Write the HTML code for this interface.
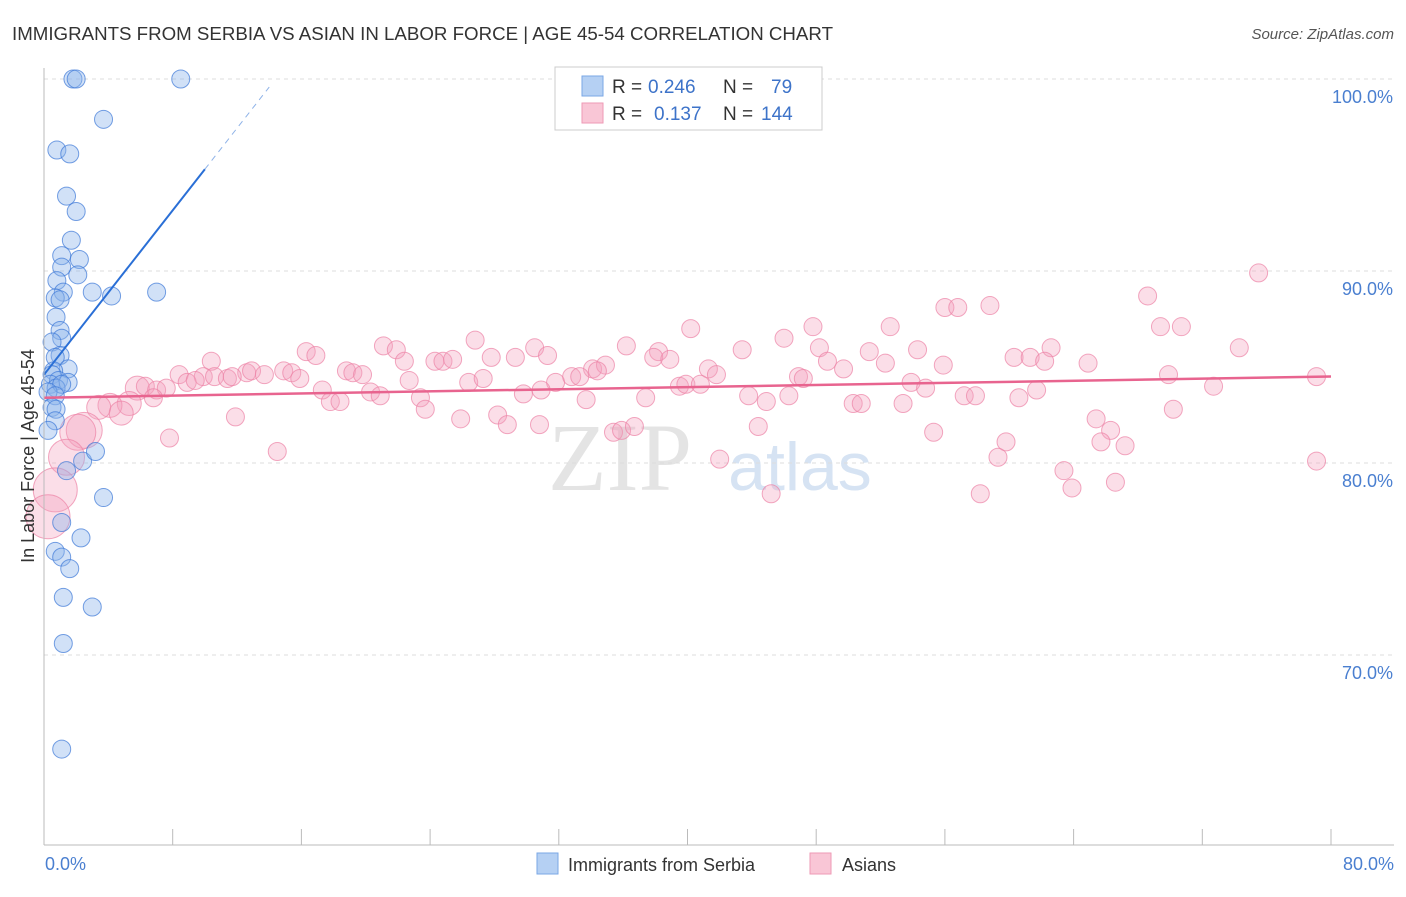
<!DOCTYPE html>
<html><head><meta charset="utf-8"><style>
body{margin:0;background:#fff;font-family:"Liberation Sans",sans-serif;}
</style></head><body>
<svg id="c" width="1406" height="892" xmlns="http://www.w3.org/2000/svg" style="font-family:'Liberation Sans',sans-serif">
<text x="12" y="40" font-size="18" fill="#333" textLength="821" lengthAdjust="spacingAndGlyphs">IMMIGRANTS FROM SERBIA VS ASIAN IN LABOR FORCE | AGE 45-54 CORRELATION CHART</text>
<text x="1394" y="39" font-size="15" fill="#555" text-anchor="end" font-style="italic">Source: ZipAtlas.com</text>
<text x="620" y="490" font-size="96" fill="#e4e4e4" font-family="Liberation Serif" text-anchor="middle">ZIP</text>
<text x="800" y="490" font-size="68" fill="#d6e3f3" text-anchor="middle">atlas</text>
<g id="grid"></g><g id="pink"></g><g id="blue"></g><g id="lines"></g><g id="axes"></g>
<text transform="translate(34,456) rotate(-90)" font-size="18" fill="#333" text-anchor="middle">In Labor Force | Age 45-54</text>
<text x="45" y="870" font-size="18" fill="#4a7fd0">0.0%</text>
<text x="1394" y="870" font-size="18" fill="#4a7fd0" text-anchor="end">80.0%</text>
<g>
<rect x="555" y="67" width="267" height="63" fill="#fff" stroke="#ccc"/>
<rect x="582" y="76" width="21" height="20" fill="#b5d0f3" stroke="#7aa7e6"/>
<rect x="582" y="103" width="21" height="20" fill="#f9c6d6" stroke="#ee9ab5"/>
<text x="612" y="93" font-size="19" fill="#333">R =</text>
<text x="648" y="93" font-size="19" fill="#3d73c9">0.246</text>
<text x="723" y="93" font-size="19" fill="#333">N =</text>
<text x="771" y="93" font-size="19" fill="#3d73c9">79</text>
<text x="612" y="120" font-size="19" fill="#333">R =</text>
<text x="654" y="120" font-size="19" fill="#3d73c9">0.137</text>
<text x="723" y="120" font-size="19" fill="#333">N =</text>
<text x="761" y="120" font-size="19" fill="#3d73c9">144</text>
</g>
<g>
<rect x="537" y="853" width="21" height="21" fill="#b5d0f3" stroke="#7aa7e6"/>
<text x="568" y="871" font-size="18" fill="#333">Immigrants from Serbia</text>
<rect x="810" y="853" width="21" height="21" fill="#f9c6d6" stroke="#ee9ab5"/>
<text x="842" y="871" font-size="18" fill="#333">Asians</text>
</g>
</svg>
<script>
const yTicks=[100,90,80,70];
const blueX=[1.8,2.0,8.5,3.7,0.8,1.6,1.4,2.0,1.7,1.1,2.2,1.1,2.1,0.8,1.2,3.0,4.2,7.0,0.7,1.0,0.75,1.0,1.1,0.5,1.0,0.7,1.5,0.6,0.5,0.9,1.5,0.4,0.75,1.1,0.25,0.7,0.5,0.75,0.7,0.25,2.4,3.2,1.4,3.7,1.1,2.3,0.7,1.1,1.6,1.2,3.0,1.2,1.1];
const blueY=[100,100,100,97.9,96.3,96.1,93.9,93.1,91.6,90.8,90.6,90.2,89.8,89.5,88.9,88.9,88.7,88.9,88.6,88.5,87.6,86.9,86.5,86.3,85.6,85.5,84.9,84.8,84.6,84.3,84.2,84.1,83.9,84.1,83.7,83.5,82.9,82.8,82.2,81.7,80.1,80.6,79.6,78.2,76.9,76.1,75.4,75.1,74.5,73.0,72.5,70.6,65.1];
const pinkX=[75.5,68.6,56.0,56.8,58.8,40.2,47.8,52.6,69.4,70.7,26.8,30.5,31.3,21.1,21.9,16.3,16.9,36.2,38.2,43.4,46.0,48.2,51.3,54.3,62.6,60.3,61.3,62.2,64.9,74.3,10.4,22.4,24.3,24.8,25.4,27.8,29.3,34.1,34.9,37.9,38.9,48.7,49.7,52.3,55.9,41.3,41.8,12.6,12.9,13.7,14.9,15.4,15.9,18.8,19.2,19.8,8.4,9.9,10.6,11.4,11.7,8.9,9.4,22.7,26.4,27.3,31.8,32.8,33.3,34.4,39.5,39.9,40.8,46.9,47.2,53.9,54.8,69.9,72.7,79.1,5.8,6.3,7.0,7.6,17.3,20.3,20.9,23.4,29.8,30.9,33.7,37.4,43.8,44.9,46.3,50.3,50.8,53.4,57.2,57.9,60.6,61.7,70.2,17.8,18.4,6.8,5.3,4.1,3.4,4.8,11.9,23.7,25.9,28.2,28.8,30.8,35.4,35.9,36.7,44.4,55.3,65.4,66.3,65.7,67.2,59.8,59.3,7.8,14.5,42.0,2.5,2.1,1.4,0.7,0.25,45.2,58.2,63.4,63.9,66.6,79.1];
const pinkY=[89.9,88.7,88.1,88.1,88.2,87.0,87.1,87.1,87.1,87.1,86.4,86.0,85.6,86.1,85.9,85.8,85.6,86.1,85.8,85.9,86.5,86.0,85.8,85.9,86.0,85.5,85.5,85.3,85.2,86.0,85.3,85.3,85.3,85.3,85.4,85.5,85.5,84.9,85.1,85.5,85.4,85.3,84.9,85.2,85.1,84.9,84.6,84.7,84.8,84.6,84.8,84.7,84.4,84.8,84.7,84.6,84.6,84.5,84.5,84.4,84.5,84.2,84.3,84.3,84.2,84.4,84.2,84.5,84.5,84.8,84.0,84.1,84.1,84.5,84.4,84.2,83.9,84.6,84.0,84.5,83.9,84.0,83.8,83.9,83.8,83.7,83.5,83.4,83.6,83.8,83.3,83.4,83.5,83.2,83.5,83.1,83.1,83.1,83.5,83.5,83.4,83.8,82.8,83.2,83.2,83.4,83.1,83.0,82.9,82.6,82.4,82.8,82.3,82.5,82.0,82.0,81.6,81.7,81.9,81.9,81.6,82.3,81.7,81.1,80.9,81.1,80.3,81.3,80.6,80.2,81.7,81.6,80.3,78.6,77.2,78.4,78.4,79.6,78.7,79.0,80.1];
const blueTrend=[84.6,1.07];
const pinkTrend=[83.4,0.0138];
const NS='http://www.w3.org/2000/svg';
const X=v=>44+v/80*1287, Y=v=>79+(100-v)*19.2;
function mk(t,a,p){const e=document.createElementNS(NS,t);for(const k in a)e.setAttribute(k,a[k]);document.getElementById(p).appendChild(e);return e;}
yTicks.forEach(t=>{
 const g=mk('line',{x1:44,x2:1394,y1:Y(t),y2:Y(t),stroke:'#ddd','stroke-dasharray':'4,4'},'grid');
 
 
 const l=mk('text',{x:1393,y:Y(t)+24,'font-size':18,fill:'#4a7fd0','text-anchor':'end'},'grid');
 l.textContent=t.toFixed(1)+'%';
 
 
});
const ax=mk('line',{x1:44,x2:44,y1:68,y2:845,stroke:'#bbb'},'axes');


const bx=mk('line',{x1:44,x2:1394,y1:845,y2:845,stroke:'#bbb'},'axes');


for(let i=1;i<=10;i++){const t=mk('line',{x1:X(i*8),x2:X(i*8),y1:829,y2:845,stroke:'#bbb'},'axes');
 
 }
pinkX.forEach((x,i)=>{const r=x<1?22:x<3?18:x<6?12:9;
 const c=mk('circle',{cx:X(x),cy:Y(pinkY[i]),r:r,fill:'rgba(244,160,190,0.35)',stroke:'rgba(236,130,165,0.7)'},'pink');
 
 });
blueX.forEach((x,i)=>{
 const c=mk('circle',{cx:X(x),cy:Y(blueY[i]),r:9,fill:'rgba(140,180,235,0.4)',stroke:'rgba(60,120,215,0.7)'},'blue');
 
 });
const b1=mk('line',{x1:X(0),y1:Y(blueTrend[0]),x2:X(10),y2:Y(blueTrend[0]+blueTrend[1]*10),stroke:'#2a6fd6','stroke-width':2},'lines');


const b2=mk('line',{x1:X(10),y1:Y(blueTrend[0]+blueTrend[1]*10),x2:X(14),y2:Y(blueTrend[0]+blueTrend[1]*14),stroke:'#8fb3e8','stroke-width':1,'stroke-dasharray':'6,5'},'lines');


const p1=mk('line',{x1:X(0),y1:Y(pinkTrend[0]),x2:X(80),y2:Y(pinkTrend[0]+pinkTrend[1]*80),stroke:'#e8648f','stroke-width':2.5},'lines');


</script>
</body></html>
